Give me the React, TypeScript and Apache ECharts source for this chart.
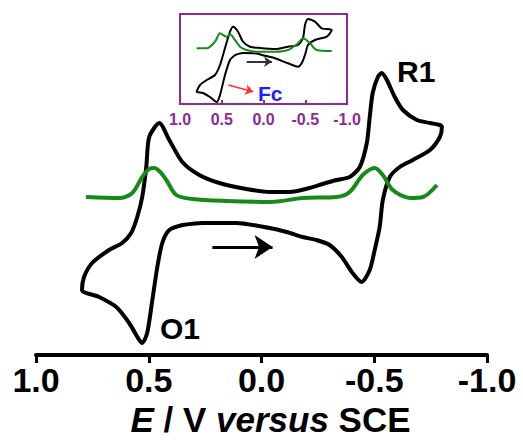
import React, { useEffect, useRef } from 'react';
import * as echarts from 'echarts';

// Main CV (E in V vs SCE, current in arbitrary units)
const cvE = [0.351, 0.262, 0.111, -0.036, -0.111, -0.182, -0.244, -0.302, -0.356, -0.404, -0.444, -0.48, -0.502, -0.524, -0.538, -0.569, -0.613, -0.671, -0.747, -0.791, -0.8, -0.791, -0.747, -0.689, -0.627, -0.591, -0.556, -0.533, -0.516, -0.493, -0.48, -0.467, -0.436, -0.391, -0.333, -0.271, -0.213, -0.124, -0.036, 0.067, 0.187, 0.276, 0.351, 0.409, 0.453, 0.498, 0.511, 0.529, 0.551, 0.578, 0.618, 0.676, 0.751, 0.787, 0.796, 0.72, 0.644, 0.587, 0.542, 0.529, 0.507, 0.484, 0.462, 0.44, 0.409, 0.351];
const cvI = [13.0, 13.2, 13.2, 12.7, 12.3, 11.8, 11.5, 11.0, 9.8, 8.2, 7.3, 8.5, 10.5, 12.8, 15.5, 17.8, 18.8, 19.5, 20.5, 21.8, 22.8, 23.0, 23.2, 23.5, 24.5, 25.8, 27.5, 28.2, 27.8, 26.2, 23.8, 21.2, 18.8, 17.8, 17.5, 17.1, 16.7, 16.3, 16.3, 16.6, 17.2, 18.0, 19.3, 21.5, 23.2, 21.8, 18.8, 15.8, 13.8, 12.2, 11.2, 10.5, 9.2, 7.8, 6.5, 5.8, 4.8, 3.2, 1.5, 1.2, 2.2, 5.5, 8.8, 11.2, 12.5, 13.0];

// Main DPV
const dpvE = [0.778, 0.631, 0.573, 0.529, 0.498, 0.476, 0.449, 0.422, 0.378, 0.307, 0.156, -0.036, -0.182, -0.333, -0.391, -0.449, -0.502, -0.538, -0.582, -0.658, -0.716, -0.778];
const dpvI = [15.8, 15.7, 16.2, 17.8, 18.6, 18.7, 18.3, 17.5, 16.0, 15.6, 15.4, 15.3, 15.7, 15.8, 16.3, 18.0, 18.7, 18.0, 16.5, 15.7, 15.8, 17.0];

// Inset CV (with Fc)
const insCvE = [0.341, 0.246, 0.081, 0.018, -0.138, -0.293, -0.413, -0.457, -0.497, -0.533, -0.617, -0.757, -0.817, -0.697, -0.617, -0.533, -0.497, -0.473, -0.413, -0.293, -0.138, 0.042, 0.162, 0.246, 0.305, 0.365, 0.401, 0.461, 0.521, 0.581, 0.68, 0.76, 0.8, 0.725, 0.641, 0.56, 0.521, 0.461, 0.401, 0.341];
const insCvI = [4.9, 5.1, 5.05, 4.9, 4.57, 4.07, 3.73, 4.07, 4.9, 5.9, 6.4, 6.73, 7.4, 7.57, 8.23, 8.5, 7.9, 6.6, 5.9, 5.73, 5.5, 5.6, 5.73, 6.23, 7.23, 7.73, 7.23, 5.6, 3.9, 2.9, 2.4, 1.9, 1.23, 1.1, 0.7, 0.2, 0.9, 2.9, 4.4, 4.9];

// Inset DPV
const insDpvE = [0.8, 0.68, 0.581, 0.521, 0.485, 0.441, 0.401, 0.341, 0.281, 0.201, 0.081, -0.138, -0.293, -0.413, -0.473, -0.557, -0.637, -0.817];
const insDpvI = [5.57, 5.57, 6.23, 7.07, 6.9, 6.73, 6.97, 6.4, 5.73, 5.4, 5.23, 5.23, 5.4, 6.07, 6.57, 6.07, 5.4, 5.3];

// Scan direction arrows (E start, E end, current)
const scanArrowE = [0.218, -0.049];
const scanArrowI = 10.8;
const insScanArrowE = [0.201, -0.102];
const insScanArrowI = 4.23;
const fcArrowE = [0.422, 0.122];
const fcArrowI = [1.9, 1.23];

const FONT = '"Liberation Sans", Arial, sans-serif';
const PURPLE = '#8e2a96';
const GREEN = '#178a17';

const zip = (a: number[], b: number[]) => a.map((v, i) => [v, b[i]]);
const fmt = (v: number) => (Math.abs(v) < 1e-9 ? '0.0' : v.toFixed(1));

export default function App() {
  const ref = useRef<HTMLDivElement>(null);
  useEffect(() => {
    if (!ref.current) return;
    const chart = echarts.init(ref.current, undefined, { renderer: 'svg' });
    chart.setOption({
      animation: false,
      grid: [
        { left: 36, right: 36, top: 0, bottom: 88 },
        { left: 180, top: 14, width: 167, height: 90, show: true, borderColor: PURPLE, borderWidth: 2, backgroundColor: 'transparent' },
      ],
      xAxis: [
        {
          type: 'value', min: -1, max: 1, interval: 0.5, inverse: true,
          axisLine: { show: true, onZero: false, lineStyle: { color: '#000', width: 4 } },
          axisTick: { show: true, inside: false, length: 8, lineStyle: { color: '#000', width: 3 } },
          axisLabel: { formatter: fmt, fontSize: 34, fontWeight: 'bold', color: '#000', fontFamily: FONT, margin: 8 },
          splitLine: { show: false },
          name: '{i|E} / V {i|versus} SCE',
          nameLocation: 'middle',
          nameGap: 42,
          nameTextStyle: {
            fontSize: 35, fontWeight: 'bold', color: '#000', fontFamily: FONT, padding: [0, 0, 0, 18],
            rich: { i: { fontSize: 35, fontWeight: 'bold', fontStyle: 'italic', color: '#000', fontFamily: FONT } },
          },
        },
        {
          gridIndex: 1, type: 'value', min: -1, max: 1, interval: 0.5, inverse: true,
          axisLine: { show: true, onZero: false, lineStyle: { color: PURPLE, width: 2 } },
          axisTick: { show: true, inside: true, length: 4, lineStyle: { color: PURPLE, width: 2 } },
          axisLabel: { formatter: fmt, fontSize: 16, fontWeight: 'bold', color: PURPLE, fontFamily: FONT, margin: 7 },
          splitLine: { show: false },
        },
      ],
      yAxis: [
        { type: 'value', min: 0, max: 35.5, show: false },
        { gridIndex: 1, type: 'value', min: 0, max: 9, show: false },
      ],
      series: [
        {
          type: 'line', xAxisIndex: 0, yAxisIndex: 0, data: zip(cvE, cvI), showSymbol: false, symbol: 'none',
          smooth: 0.25, lineStyle: { color: '#000', width: 4 }, silent: true,
          markLine: {
            silent: true, symbol: ['none', 'arrow'], symbolSize: 18, label: { show: false },
            lineStyle: { color: '#000', width: 3, type: 'solid' }, emphasis: { disabled: true },
            data: [[{ coord: [scanArrowE[0], scanArrowI] }, { coord: [scanArrowE[1], scanArrowI] }]],
          },
        },
        {
          type: 'line', xAxisIndex: 0, yAxisIndex: 0, data: zip(dpvE, dpvI), showSymbol: false, symbol: 'none',
          smooth: 0.3, lineStyle: { color: GREEN, width: 4 }, silent: true,
        },
        {
          type: 'line', xAxisIndex: 1, yAxisIndex: 1, data: zip(insCvE, insCvI), showSymbol: false, symbol: 'none',
          smooth: 0.25, lineStyle: { color: '#000', width: 2 }, silent: true,
          markLine: {
            silent: true, symbol: ['none', 'arrow'], symbolSize: 8, label: { show: false }, emphasis: { disabled: true },
            data: [
              [{ coord: [insScanArrowE[0], insScanArrowI], lineStyle: { color: '#333', width: 2, type: 'solid' } },
               { coord: [insScanArrowE[1], insScanArrowI] }],
              [{ coord: [fcArrowE[0], fcArrowI[0]], lineStyle: { color: '#ff3030', width: 1.5, type: 'solid' } },
               { coord: [fcArrowE[1], fcArrowI[1]] }],
            ],
          },
        },
        {
          type: 'line', xAxisIndex: 1, yAxisIndex: 1, data: zip(insDpvE, insDpvI), showSymbol: false, symbol: 'none',
          smooth: 0.3, lineStyle: { color: GREEN, width: 2 }, silent: true,
        },
      ],
      graphic: [
        { type: 'text', left: 397, top: 56, style: { text: 'R1', fontSize: 30, fontWeight: 'bold', fontFamily: FONT, fill: '#000' } },
        { type: 'text', left: 160, top: 313, style: { text: 'O1', fontSize: 30, fontWeight: 'bold', fontFamily: FONT, fill: '#000' } },
        { type: 'text', left: 258, top: 83, style: { text: 'Fc', fontSize: 21, fontWeight: 'bold', fontFamily: FONT, fill: '#1e1eff' } },
      ],
    });
    return () => chart.dispose();
  }, []);
  return <div ref={ref} style={{ position: 'absolute', left: 0, top: 0, width: 523, height: 443 }} />;
}
